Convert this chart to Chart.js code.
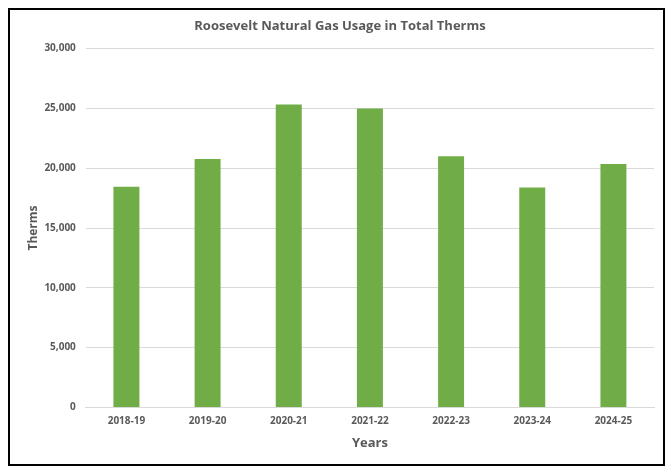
<!DOCTYPE html>
<html>
<head>
<meta charset="utf-8">
<script src="https://cdn.jsdelivr.net/npm/chart.js@4/dist/chart.umd.min.js"></script>
<style>
  html, body { margin: 0; padding: 0; background: #fff; }
  #frame { position: absolute; left: 8px; top: 8px; width: 653px; height: 454px; border: 2px solid #000; background: #fff; }
  #c { display: block; }
</style>
</head>
<body>
<div id="frame"><canvas id="c" width="653" height="454"></canvas></div>
<script>
const categories = ['2018-19', '2019-20', '2020-21', '2021-22', '2022-23', '2023-24', '2024-25'];
const therms = [18450, 20770, 25330, 25000, 21000, 18390, 20360];
const yTicks = [0, 5000, 10000, 15000, 20000, 25000, 30000];

const FONT = "'Open Sans', 'Liberation Sans', sans-serif";
const GREY = '#595959';

new Chart(document.getElementById('c'), {
  type: 'bar',
  data: {
    labels: categories,
    datasets: [{
      label: 'Therms',
      data: therms,
      backgroundColor: '#70AD47',
      borderWidth: 0,
      barPercentage: 0.32,
      categoryPercentage: 1.0
    }]
  },
  options: {
    responsive: false,
    animation: false,
    layout: { padding: { left: 16, right: 9, top: 4, bottom: 13 } },
    plugins: {
      legend: { display: false },
      tooltip: { enabled: false },
      title: {
        display: true,
        text: 'Roosevelt Natural Gas Usage in Total Therms',
        color: GREY,
        font: { family: FONT, size: 13, weight: 'bold' },
        padding: { top: 4, bottom: 15 }
      }
    },
    scales: {
      x: {
        grid: { display: false, drawTicks: false },
        border: { display: true, color: '#d9d9d9', width: 1 },
        ticks: { color: GREY, font: { family: FONT, size: 10, weight: 'bold' }, padding: 8, maxRotation: 0 },
        title: { display: true, text: 'Years', color: GREY, font: { family: FONT, size: 13, weight: 'bold' }, padding: { top: 0, bottom: 0 } }
      },
      y: {
        min: 0,
        max: 30000,
        afterBuildTicks: (axis) => { axis.ticks = yTicks.map(v => ({ value: v })); },
        grid: { color: '#d9d9d9', drawTicks: false },
        border: { display: false },
        ticks: {
          color: GREY,
          font: { family: FONT, size: 10, weight: 'bold' },
          padding: 10,
          callback: (v) => v.toLocaleString('en-US')
        },
        title: { display: true, text: 'Therms', color: GREY, font: { family: FONT, size: 12, weight: 'bold' }, padding: { top: 0, bottom: -6 } }
      }
    }
  }
});
</script>
</body>
</html>
